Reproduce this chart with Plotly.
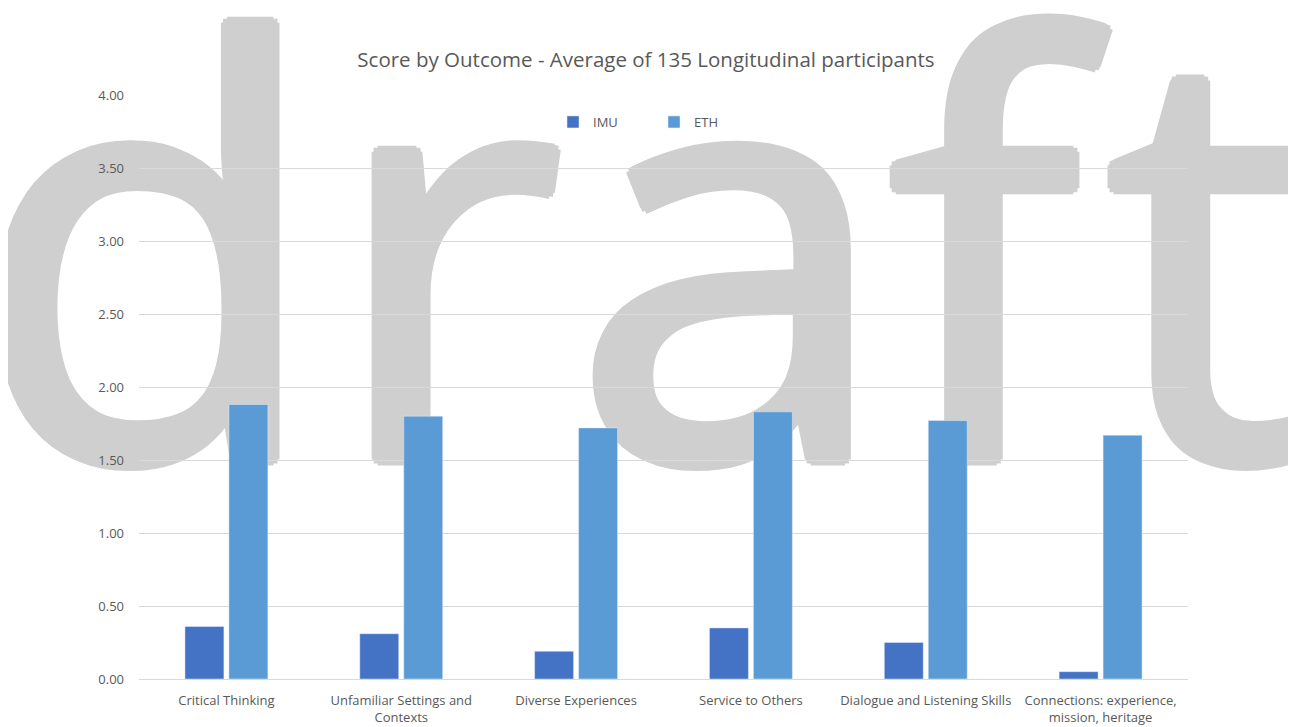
import plotly.graph_objects as go

categories = [
    "Critical Thinking",
    "Unfamiliar Settings and<br>Contexts",
    "Diverse Experiences",
    "Service to Others",
    "Dialogue and Listening Skills",
    "Connections: experience,<br>mission, heritage",
]
imu = [0.36, 0.31, 0.19, 0.35, 0.25, 0.05]
eth = [1.88, 1.80, 1.72, 1.83, 1.77, 1.67]
y_ticks = [0, 0.5, 1, 1.5, 2, 2.5, 3, 3.5, 4]

# page body has an 8px margin, so figure is sized to the visible area
W, H = 1288, 719
ML, MR, MT, MB = 131, 108, 87, 48
PW, PH = W - ML - MR, H - MT - MB

def px(x):
    return (x - ML) / PW

def py(y):
    return (H - MB - y) / PH

fig = go.Figure()
fig.add_trace(go.Bar(name="IMU", x=categories, y=imu, marker_color="#4472C4"))
fig.add_trace(go.Bar(name="ETH", x=categories, y=eth, marker_color="#5B9BD5"))

# watermark letters (thickened with a text shadow)
WM_SIZE = 575
WM_COL = "#CFCFCF"
s = 6
d = 4
wm_shadow = ", ".join(f"{a}px {b}px 0 {WM_COL}" for a, b in
                      [(s, 0), (-s, 0), (0, s), (0, -s), (d, d), (-d, d), (d, -d), (-d, -d)])
wm = [("d", 139), ("r", 438), ("a", 724), ("f", 976), ("t", 1199)]
wm_cy = 268
shapes = []
for ch, cx in wm:
    shapes.append(dict(
        type="rect", xref="paper", yref="paper",
        x0=px(cx - 1), x1=px(cx + 1), y0=py(wm_cy) - 0.001, y1=py(wm_cy) + 0.001,
        line=dict(width=0), fillcolor="rgba(0,0,0,0)", layer="below",
        label=dict(text=ch, font=dict(family="Open Sans", size=WM_SIZE, color=WM_COL,
                                      shadow=wm_shadow),
                   textposition="middle center"),
    ))

fig.update_layout(
    width=W, height=H,
    margin=dict(l=ML, r=MR, t=MT, b=MB, autoexpand=False),
    paper_bgcolor="white", plot_bgcolor="rgba(0,0,0,0)",
    font=dict(family="Open Sans", color="#595959", size=13),
    title=dict(text="Score by Outcome - Average of 135 Longitudinal participants",
               x=(646 - 8) / W, xanchor="center", y=1 - 52 / H, yanchor="middle",
               font=dict(size=20.5, color="#595959")),
    barmode="group", bargap=0.497, bargroupgap=0.114,
    legend=dict(orientation="h", x=px(545), xanchor="left", y=py(114), yanchor="middle",
                font=dict(size=13, color="#595959"), entrywidth=56,
                bgcolor="rgba(0,0,0,0)"),
    shapes=shapes,
)
fig.update_yaxes(range=[0, 4], tickvals=y_ticks, tickformat=".2f", showgrid=True,
                 gridcolor="#D9D9D9", gridwidth=1, zeroline=False, showline=False,
                 automargin=False,
                 ticks="", ticklabelstandoff=14, tickfont=dict(size=13, color="#595959"))
fig.update_xaxes(showline=True, linecolor="#D9D9D9", linewidth=1, ticks="",
                 automargin=False,
                 ticklabelstandoff=9, tickfont=dict(size=13, color="#595959"))

fig.write_html("out.html")
